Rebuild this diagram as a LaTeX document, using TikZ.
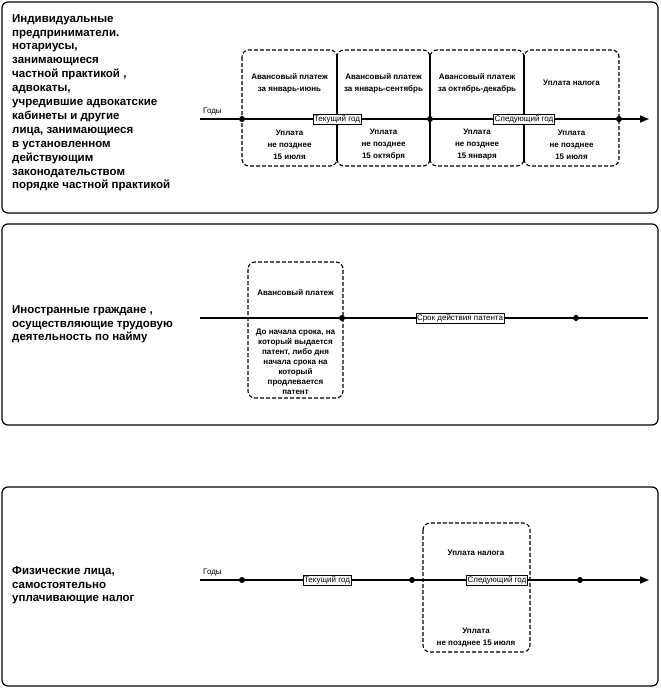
\documentclass[tikz,border=0pt]{standalone}
\usepackage{fontspec}
\setmainfont{Liberation Sans}
\usetikzlibrary{arrows.meta}
\begin{document}
\begin{tikzpicture}[x=1pt,y=-1pt,
 frame/.style={draw, line width=1.2pt, rounded corners=6pt},
 period/.style={draw, line width=1.1pt, rounded corners=7pt, dash pattern=on 4pt off 2pt},
 sep/.style={line width=1.1pt},
 tline/.style={line width=1.6pt},
 dot/.style={circle, fill, inner sep=0pt, minimum size=6pt},
 tag/.style={draw, fill=white, line width=0.6pt, inner sep=1pt, font=\fontsize{8}{8.5}\selectfont},
 lefttext/.style={anchor=north west, align=left, inner sep=0pt, font=\bfseries\fontsize{11.5}{13.9}\selectfont},
 intext/.style={align=center, inner sep=0pt, font=\bfseries\fontsize{8}{12}\selectfont},
 small/.style={inner sep=0pt, font=\fontsize{8}{8.5}\selectfont}
]
\useasboundingbox (0,0) rectangle (661,688);
\fill[white] (0,0) rectangle (661,688);

% ===== Frame 1 =====
\draw[frame] (2,2) rectangle (658,213);
\node[lefttext] (t1) at (12,14) {Индивидуальные\\предприниматели.\\нотариусы,\\занимающиеся\\частной практикой ,\\адвокаты,\\учредившие адвокатские\\кабинеты и другие\\лица, занимающиеся\\в установленном\\действующим\\законодательством\\порядке частной практикой};

\draw[period] (242,50) rectangle (337,166);
\draw[period] (337,50) rectangle (430,166);
\draw[period] (430,50) rectangle (524,166);
\draw[period] (524,50) rectangle (619,166);
\draw[sep] (337,55) -- (337,161);
\draw[sep] (430,55) -- (430,161);
\draw[sep] (524,55) -- (524,161);

\coordinate (a1) at (200,119);
\coordinate (b1) at (649,119);
\draw[tline, -{Triangle[length=9pt,width=7pt]}] (a1) -- (b1);
\node[dot] (d11) at (242,119) {};
\node[dot] (d12) at (430,119) {};
\node[dot] (d13) at (619,119) {};
\node[small, anchor=south west] (g1) at (203,115) {Годы};
\node[tag] (cur1) at (337,119) {Текущий год};
\node[tag] (nxt1) at (524,119) {Следующий год};

\node[intext] (p11) at (289.5,83) {Авансовый платеж\\за январь-июнь};
\node[intext] (p12) at (383.5,83) {Авансовый платеж\\за январь-сентябрь};
\node[intext] (p13) at (477,83) {Авансовый платеж\\за октябрь-декабрь};
\node[intext] (p14) at (571.5,83) {Уплата налога};
\node[intext] (u11) at (289.5,145) {Уплата\\не позднее\\15 июля};
\node[intext] (u12) at (383.5,145) {Уплата\\не позднее\\15 октября};
\node[intext] (u13) at (477,145) {Уплата\\не позднее\\15 января};
\node[intext] (u14) at (571.5,145) {Уплата\\не позднее\\15 июля};

% ===== Frame 2 =====
\draw[frame] (2,224) rectangle (658,425);
\node[lefttext] (t2) at (12,305) {Иностранные граждане ,\\осуществляющие трудовую\\деятельность по найму};

\draw[period] (248,262) rectangle (343,398);
\coordinate (a2) at (200,318);
\coordinate (b2) at (648,318);
\draw[tline] (a2) -- (b2);
\node[dot] (d21) at (342,318) {};
\node[dot] (d22) at (576,318) {};
\node[tag] (pat) at (460,318) {Срок действия патента};
\node[intext] (p21) at (295.5,293) {Авансовый платеж};
\node[intext, font=\bfseries\fontsize{8}{10}\selectfont] (u21) at (295.5,362) {До начала срока, на\\который выдается\\патент, либо дня\\начала срока на\\который\\продлевается\\патент};

% ===== Frame 3 =====
\draw[frame] (2,487) rectangle (658,686);
\node[lefttext] (t3) at (12,566) {Физические лица,\\самостоятельно\\уплачивающие налог};

\draw[period] (423,523) rectangle (530,652);
\coordinate (a3) at (200,580);
\coordinate (b3) at (649,580);
\draw[tline, -{Triangle[length=9pt,width=7pt]}] (a3) -- (b3);
\node[dot] (d31) at (242,580) {};
\node[dot] (d32) at (412,580) {};
\node[dot] (d33) at (580,580) {};
\node[small, anchor=south west] (g3) at (203,576) {Годы};
\node[tag] (cur3) at (327,580) {Текущий год};
\node[tag] (nxt3) at (497,580) {Следующий год};
\node[intext] (p31) at (476,553) {Уплата налога};
\node[intext] (u31) at (476,638) {Уплата\\не позднее 15 июля};
\end{tikzpicture}
\end{document}
